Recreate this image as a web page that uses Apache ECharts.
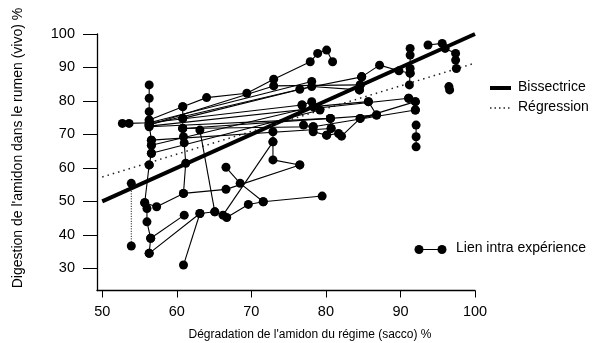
<!DOCTYPE html>
<html><head><meta charset="utf-8">
<script src="https://cdn.jsdelivr.net/npm/echarts@6/dist/echarts.min.js"></script>
<style>html,body{margin:0;padding:0;background:#fff}#c{width:596px;height:343px}</style>
</head><body><div id="c"></div>
<script>
// ---- tick labels
const xTicks = [50, 60, 70, 80, 90, 100];
const yTicks = [30, 40, 50, 60, 70, 80, 90, 100];

// ---- reference lines
const bisector = [[50, 50], [100, 100]];
const regression = [[50, 57.3], [100, 91.3]];

// ---- experiments: [sacco degradation %, in vivo rumen digestion %]
const exp01 = [[52.7, 73.3], [53.6, 73.3], [56.3, 73.5], [78.1, 85.8]];
const exp02 = [[56.3, 84.8], [56.3, 80.8], [56.3, 76.8], [56.3, 74.3]];
const exp03 = [[56.3, 74.3], [60.8, 78.3], [64.0, 81.0], [69.4, 82.3], [73.0, 86.5], [77.9, 91.7], [78.9, 94.2], [80.1, 95.2], [80.9, 91.7]];
const exp04 = [[56.3, 73.0], [76.5, 83.5], [84.8, 87.2]];
const exp05 = [[56.3, 72.8], [73.0, 84.5], [84.6, 84.8]];
const exp06 = [[60.8, 74.8], [78.1, 84.3], [84.5, 83.3]];
const exp07 = [[56.3, 72.5], [91.1, 80.8]];
const exp08 = [[56.3, 72.3], [80.6, 74.8], [86.8, 75.8]];
const exp09 = [[60.8, 71.8], [78.3, 72.3], [92.0, 77.3]];
const exp10 = [[56.6, 68.3], [80.7, 71.8]];
const exp11 = [[56.6, 66.8], [78.3, 78.3], [85.7, 79.8]];
const exp12 = [[56.6, 64.4], [79.2, 77.3]];
const exp13 = [[60.8, 78.3], [60.8, 74.8], [60.8, 71.8], [60.9, 69.3], [61.0, 67.5], [61.2, 61.4], [60.9, 52.4]];
const exp14 = [[56.3, 72.8], [56.6, 68.3], [56.6, 66.8], [56.6, 64.4], [56.3, 60.9]];
const exp15 = [[56.3, 60.9], [55.7, 49.6], [56.0, 47.9], [56.0, 43.9], [56.5, 39.0], [56.3, 34.5]];
const exp16 = [[55.7, 49.6], [57.3, 48.4], [60.9, 52.4], [66.6, 53.6], [76.5, 60.9]];
const exp17 = [[56.5, 39.0], [61.0, 45.9]];
const exp18 = [[56.3, 34.5], [63.1, 46.4], [65.1, 46.9], [66.7, 45.2], [69.6, 49.1], [71.6, 49.9]];
const exp19 = [[60.9, 31.0], [63.1, 46.4]];
const exp20 = [[63.1, 71.3], [65.1, 46.9]];
const exp21 = [[66.6, 60.2], [68.5, 55.4], [71.6, 49.9], [79.5, 51.6]];
const exp22 = [[66.2, 45.9], [72.9, 67.8]];
const exp23 = [[72.9, 70.8], [72.9, 67.8], [72.9, 62.4], [76.5, 60.9]];
const exp24 = [[77.0, 72.8], [78.3, 72.3], [78.3, 70.8], [80.1, 69.8], [81.7, 70.3]];
const exp25 = [[80.6, 74.8], [80.7, 71.8], [80.1, 69.8]];
const exp26 = [[76.8, 78.8], [78.1, 79.8], [78.3, 78.3]];
const exp27 = [[82.1, 69.5], [84.6, 74.8], [86.8, 75.8], [85.7, 79.8]];
const exp28 = [[84.8, 87.2], [84.6, 84.8], [84.5, 83.3]];
const exp29 = [[84.8, 87.2], [87.2, 90.7], [89.8, 89.0], [91.3, 88.3]];
const exp30 = [[91.3, 95.7], [91.3, 93.7], [91.3, 89.7], [91.3, 88.3], [91.2, 84.8]];
const exp31 = [[91.1, 80.8], [92.0, 79.8], [92.0, 77.3]];
const exp32 = [[92.1, 72.8], [92.1, 69.3], [92.1, 66.3]];
const exp33 = [[93.7, 96.7], [95.6, 97.2], [96.0, 95.7], [97.4, 94.2], [97.4, 92.2], [97.5, 89.7]];
const exp34 = [[96.5, 84.3], [96.6, 83.3]];
const exp35 = [[84.6, 74.8], [92.0, 79.8]];
const exp36 = [[60.8, 71.8], [80.6, 74.8]];
const exp37 = [[56.3, 73.5], [76.8, 78.8]];
const expDotted = [[53.9, 55.4], [53.9, 36.7]];

const experiments = [exp01, exp02, exp03, exp04, exp05, exp06, exp07, exp08, exp09, exp10,
  exp11, exp12, exp13, exp14, exp15, exp16, exp17, exp18, exp19, exp20, exp21, exp22,
  exp23, exp24, exp25, exp26, exp27, exp28, exp29, exp30, exp31, exp32, exp33, exp34, exp35,
  exp36, exp37];

const FONT = '"Liberation Sans", Arial, Helvetica, sans-serif';
const chart = echarts.init(document.getElementById('c'), null, {renderer: 'canvas'});

const series = [];
series.push({
  type: 'line', name: 'Bissectrice', data: bisector, symbol: 'none', silent: true, z: 3,
  lineStyle: {color: '#000', width: 4}, animation: false
});
series.push({
  type: 'line', name: 'Régression', data: regression, symbol: 'none', silent: true, z: 3,
  lineStyle: {color: '#222', width: 1.5, type: [1.5, 4]}, animation: false
});
experiments.forEach(function (d) {
  series.push({
    type: 'line', name: 'Lien intra expérience', data: d, symbol: 'circle', symbolSize: 9,
    itemStyle: {color: '#000'}, lineStyle: {color: '#000', width: 1.1}, silent: true, z: 4,
    animation: false
  });
});
series.push({
  type: 'line', name: 'Lien intra expérience', data: expDotted, symbol: 'circle', symbolSize: 9,
  itemStyle: {color: '#000'}, lineStyle: {color: '#000', width: 1, type: [1, 1.5]}, silent: true, z: 4,
  animation: false
});

chart.setOption({
  backgroundColor: '#fff',
  animation: false,
  grid: {left: 97, right: 121, top: 34, bottom: 52.5, containLabel: false, outerBoundsMode: 'none'},
  xAxis: {
    type: 'value', min: 49.3, max: 100,
    axisLine: {show: true, onZero: false, lineStyle: {color: '#000', width: 1.3}},
    axisTick: {show: true, customValues: xTicks, length: 7, lineStyle: {color: '#000', width: 1}},
    axisLabel: {customValues: xTicks, margin: 14, color: '#000', fontSize: 14.5, fontFamily: FONT},
    splitLine: {show: false}
  },
  yAxis: {
    type: 'value', min: 23.4, max: 100,
    axisLine: {show: true, onZero: false, lineStyle: {color: '#000', width: 1.3}},
    axisTick: {show: true, customValues: yTicks, length: 14, lineStyle: {color: '#000', width: 1}},
    axisLabel: {customValues: yTicks, margin: 22, color: '#000', fontSize: 14.5, fontFamily: FONT},
    splitLine: {show: false}
  },
  graphic: [
    {type: 'text', x: 18, y: 148, rotation: Math.PI / 2,
     style: {text: "Digestion de l'amidon dans le rumen (vivo) %", fill: '#000', font: '14px ' + FONT, align: 'center', verticalAlign: 'middle'}},
    {type: 'text', x: 310, y: 335,
     style: {text: "Dégradation de l'amidon du régime (sacco) %", fill: '#000', font: '12px ' + FONT, align: 'center', verticalAlign: 'middle'}},
    {type: 'line', shape: {x1: 490, y1: 88, x2: 511, y2: 88}, style: {stroke: '#000', lineWidth: 4}},
    {type: 'text', x: 518, y: 87.5, style: {text: 'Bissectrice', fill: '#000', font: '14px ' + FONT, align: 'left', verticalAlign: 'middle'}},
    {type: 'line', shape: {x1: 490, y1: 108, x2: 511, y2: 108}, style: {stroke: '#222', lineWidth: 1.5, lineDash: [1.5, 3]}},
    {type: 'text', x: 518, y: 107.5, style: {text: 'Régression', fill: '#000', font: '14px ' + FONT, align: 'left', verticalAlign: 'middle'}},
    {type: 'line', shape: {x1: 419, y1: 249.5, x2: 442, y2: 249.5}, style: {stroke: '#000', lineWidth: 1}},
    {type: 'circle', shape: {cx: 419, cy: 249.5, r: 4.5}, style: {fill: '#000'}},
    {type: 'circle', shape: {cx: 442, cy: 249.5, r: 4.5}, style: {fill: '#000'}},
    {type: 'text', x: 456, y: 248, style: {text: 'Lien intra expérience', fill: '#000', font: '14px ' + FONT, align: 'left', verticalAlign: 'middle'}}
  ],
  series: series
});
</script>
</body></html>
